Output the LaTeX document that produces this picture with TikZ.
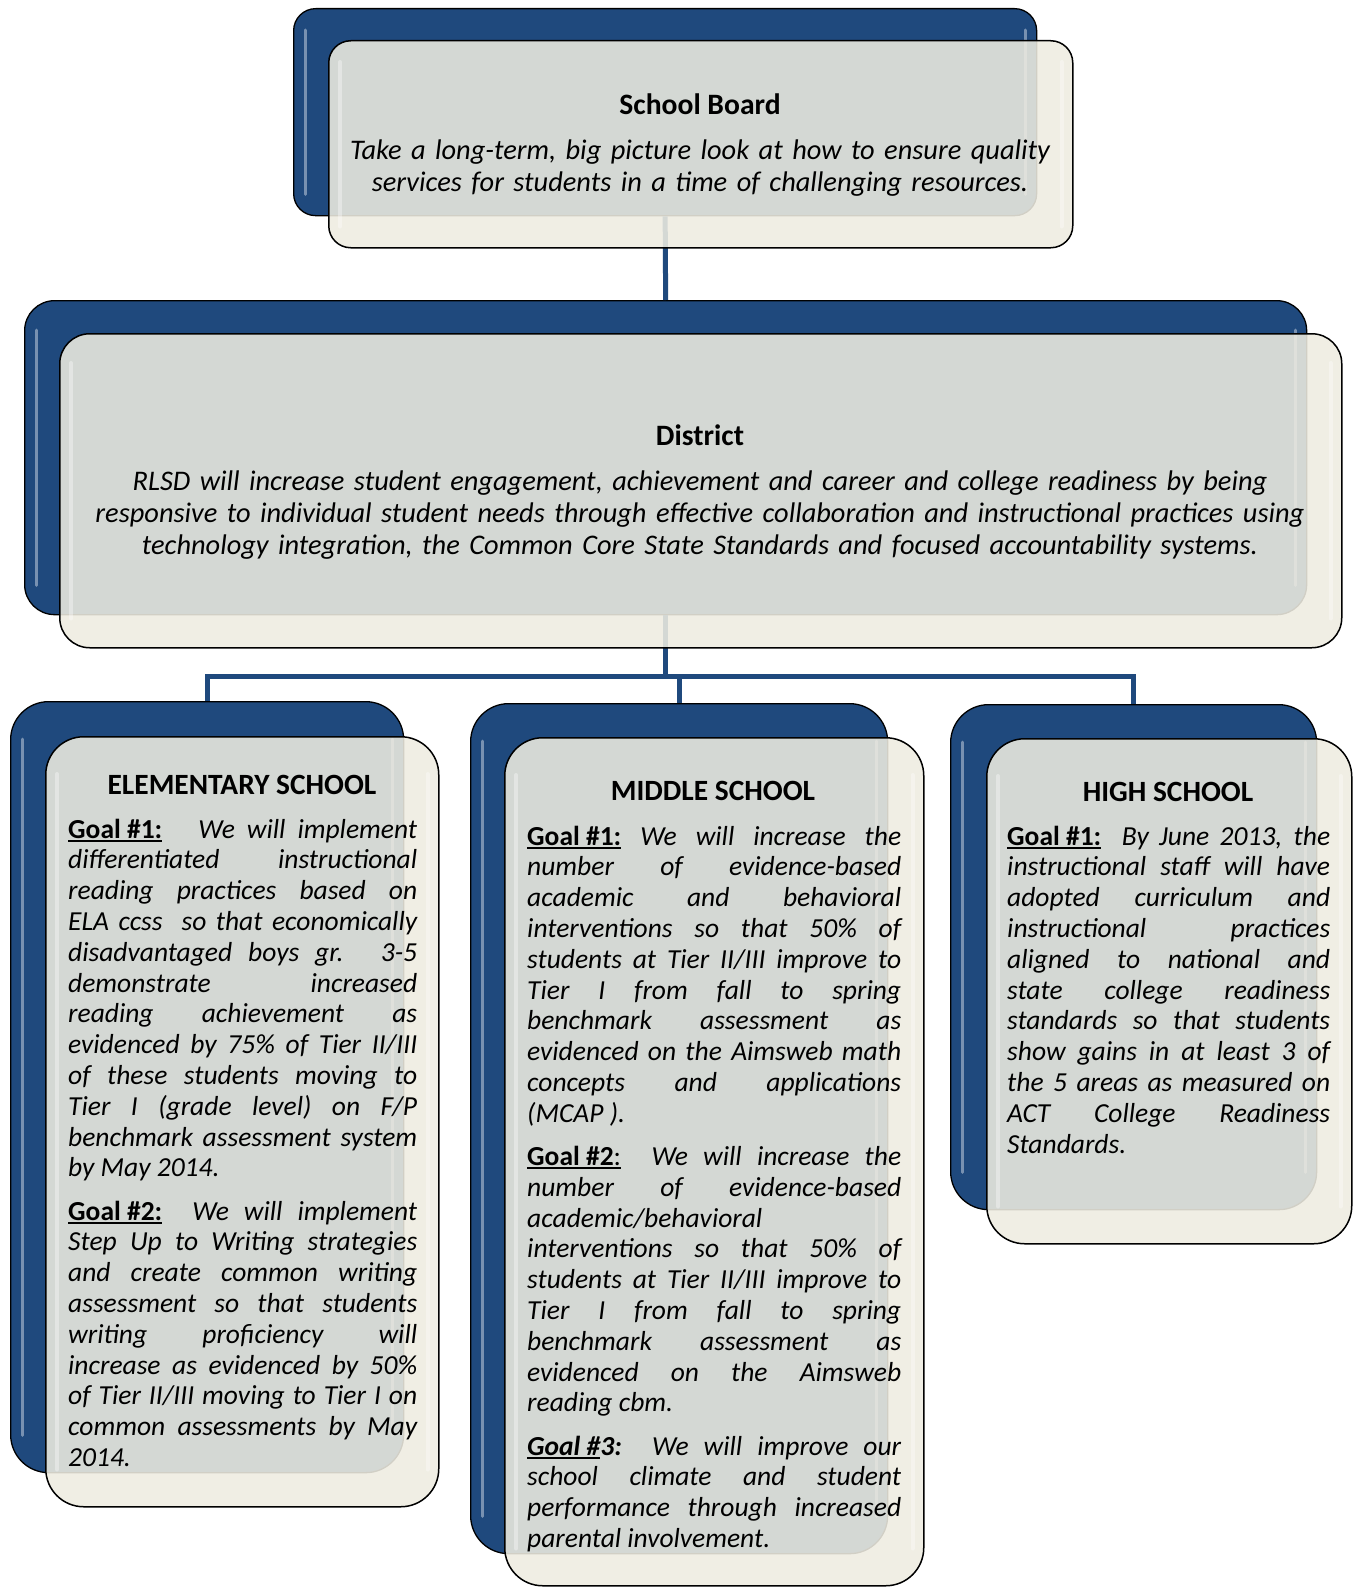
\documentclass[tikz,border=0pt]{standalone}
\usepackage{fontspec}
\setmainfont{Carlito}
\definecolor{navy}{RGB}{31,73,125}
\definecolor{beige}{RGB}{238,236,225}
\newcommand\goalul[1]{\leavevmode\setbox0\hbox{#1}\rlap{\rule[-3.8pt]{\wd0}{1.9pt}}\box0\relax}
\newcommand\bodysetup{\hyphenpenalty=10000 \exhyphenpenalty=10000 \tolerance=10000 \hfuzz=20pt \setlength{\parskip}{12.4pt}}
\tikzset{
 backbox/.style={draw=black, line width=1.3pt, fill=navy, rounded corners=#1, inner sep=0pt, anchor=north west},
 frontbox/.style={draw=black, line width=1.5pt, fill=beige, fill opacity=0.88, rounded corners=#1, inner sep=0pt, anchor=north west},
 conn/.style={draw=navy, line width=5pt},
 hlback/.style={draw=white, opacity=0.4, line width=3pt, line cap=round},
 hlfront/.style={draw=white, opacity=0.35, line width=4pt, line cap=round},
 ttl/.style={font=\fontsize{29.4}{30.8}\selectfont\bfseries, inner sep=0pt, anchor=base},
 topttl/.style={font=\fontsize{29.6}{32.4}\selectfont\bfseries, inner sep=0pt, anchor=base},
 topbody/.style={font=\fontsize{28.4}{32.4}\selectfont\itshape, inner sep=0pt, anchor=base, align=center, text width=#1},
 body/.style={font=\fontsize{27.5}{30.8}\selectfont\itshape\bodysetup, inner sep=0pt, align=justify, anchor=base west, text width=#1},
}
\newcommand\backgloss[2]{%
 \draw[hlback] ([xshift=12pt,yshift=-#2]#1.north west) -- ([xshift=12pt,yshift=#2]#1.south west);
 \draw[hlback] ([xshift=-12pt,yshift=-#2]#1.north east) -- ([xshift=-12pt,yshift=#2]#1.south east);}
\newcommand\frontgloss[2]{%
 \draw[hlfront] ([xshift=12pt,yshift=-#2]#1.north west) -- ([xshift=12pt,yshift=#2]#1.south west);
 \draw[hlfront] ([xshift=-12pt,yshift=-#2]#1.north east) -- ([xshift=-12pt,yshift=#2]#1.south east);}
\begin{document}
\begin{tikzpicture}[x=1pt,y=-1pt]
\useasboundingbox (0,0) rectangle (1356,1587);
\fill[white] (0,0) rectangle (1356,1587);
% back boxes
\node[backbox=22pt, minimum width=743pt, minimum height=207pt] (sbB) at (293,8) {};
\node[backbox=30pt, minimum width=1282pt, minimum height=314pt] (dB) at (24,300) {};
\node[backbox=38pt, minimum width=393pt, minimum height=771pt] (eB) at (10,701) {};
\node[backbox=38pt, minimum width=417pt, minimum height=850pt] (mB) at (470,703) {};
\node[backbox=38pt, minimum width=366pt, minimum height=505pt] (hB) at (950,704) {};
\backgloss{sbB}{22pt}
\backgloss{dB}{30pt}
\backgloss{eB}{38pt}
\backgloss{mB}{38pt}
\backgloss{hB}{38pt}
% connectors
\coordinate (jy) at (0,676);
\draw[conn] (sbB.south) -- (dB.north);
\draw[conn] (dB.south) -- (dB.south |- jy);
\draw[conn] (eB.north) -- (eB.north |- jy) -- (hB.north |- jy) -- (hB.north);
\draw[conn] (mB.north) -- (mB.north |- jy);
% front boxes
\node[frontbox=22pt, minimum width=744pt, minimum height=207pt] (sbF) at (328,40) {};
\node[frontbox=30pt, minimum width=1282pt, minimum height=314pt] (dF) at (59,333) {};
\node[frontbox=38pt, minimum width=393pt, minimum height=770pt] (eF) at (45,736) {};
\node[frontbox=38pt, minimum width=419pt, minimum height=848pt] (mF) at (504,737) {};
\node[frontbox=38pt, minimum width=365pt, minimum height=505pt] (hF) at (986,738) {};
\frontgloss{sbF}{22pt}
\frontgloss{dF}{30pt}
\frontgloss{eF}{38pt}
\frontgloss{mF}{38pt}
\frontgloss{hF}{38pt}
% texts
\node[topttl] (sbT) at (700,114) {School Board};
\node[topbody=760pt] (sbX) at (700,159) {Take a long-term, big picture look at how to ensure quality\\ services for students in a time of challenging resources.};
\node[topttl] (dT) at (700,445) {District};
\node[topbody=1276pt] (dX) at (700,490) {RLSD will increase student engagement, achievement and career and college readiness by being\\ responsive to individual student needs through effective collaboration and instructional practices using\\ technology integration, the Common Core State Standards and focused accountability systems.};
\node[ttl] (eT) at (242,794) {ELEMENTARY SCHOOL};
\node[ttl] (mT) at (713,800) {MIDDLE SCHOOL};
\node[ttl] (hT) at (1168,801) {HIGH SCHOOL};
\node[body=349pt] (eX) at (68,838) {\goalul{\upshape\bfseries Goal \#1:}\ \ \ We will implement\linebreak
differentiated instructional\linebreak
reading practices based on\linebreak
ELA ccss\ \ so that economically\linebreak
disadvantaged boys gr. 3-5\linebreak
demonstrate increased\linebreak
reading achievement as\linebreak
evidenced by 75\% of Tier II/III\linebreak
of these students moving to\linebreak
Tier I (grade level) on F/P\linebreak
benchmark assessment system\linebreak
by May 2014.\par
\goalul{\upshape\bfseries Goal \#2:}\ \ We will implement\linebreak
Step Up to Writing strategies\linebreak
and create common writing\linebreak
assessment so that students\linebreak
writing proficiency will\linebreak
increase as evidenced by 50\%\linebreak
of Tier II/III moving to Tier I on\linebreak
common assessments by May\linebreak
2014.};
\node[body=374pt] (mX) at (527,845) {\goalul{\upshape\bfseries Goal \#1:} We will increase the\linebreak
number of evidence-based\linebreak
academic and behavioral\linebreak
interventions so that 50\% of\linebreak
students at Tier II/III improve to\linebreak
Tier I from fall to spring\linebreak
benchmark assessment as\linebreak
evidenced on the Aimsweb math\linebreak
concepts and applications\linebreak
(MCAP ).\par
\goalul{\upshape\textbf{Goal \#2}:}\ \ We will increase the\linebreak
number of evidence-based\linebreak
academic/behavioral\newline
interventions so that 50\% of\linebreak
students at Tier II/III improve to\linebreak
Tier I from fall to spring\linebreak
benchmark assessment as\linebreak
evidenced on the Aimsweb\linebreak
reading cbm.\par
\textbf{\goalul{Goal \#}3:}\ \ We will improve our\linebreak
school climate and student\linebreak
performance through increased\linebreak
parental involvement.};
\node[body=323pt] (hX) at (1007,845) {\goalul{\upshape\bfseries Goal \#1:}\ \ By June 2013, the\linebreak
instructional staff will have\linebreak
adopted curriculum and\linebreak
instructional practices\linebreak
aligned to national and\linebreak
state college readiness\linebreak
standards so that students\linebreak
show gains in at least 3 of\linebreak
the 5 areas as measured on\linebreak
ACT College Readiness\linebreak
Standards.};
\end{tikzpicture}
\end{document}
